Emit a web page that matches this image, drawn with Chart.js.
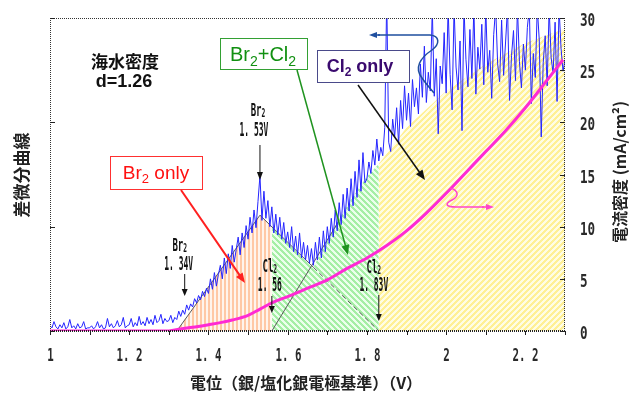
<!DOCTYPE html>
<html>
<head>
<meta charset="utf-8">
<script src="https://cdn.jsdelivr.net/npm/chart.js@4/dist/chart.umd.min.js"></script>
<style>
  html, body { margin: 0; padding: 0; background: #fff; }
  canvas { display: block; }
</style>
</head>
<body>
<canvas id="c" width="632" height="394"></canvas>
<script>
// Potential sweep: first sample and spacing (V vs Ag/AgCl)
const sweepStart = 1.00;
const sweepStep = 0.005;

// Differential curve, one value per sweep sample (plotted on the 0-30 scale)
const diffCurve = [
  0.5,0.3,0.9,0.4,0.2,0.6,0.3,0.8,0.2,0.4,1.1,0.3,0.5,0.2,0.7,0.3,0.4,0.9,0.2,0.3,
  0.3,0.5,0.2,0.4,0.9,0.3,0.6,0.2,0.3,1.2,0.4,0.7,0.3,0.5,1.0,0.4,0.6,1.3,0.3,0.5,
  0.6,1.2,0.4,0.8,0.5,1.4,0.6,0.9,0.5,1.3,0.7,1.1,0.6,1.5,0.8,1.0,1.6,0.7,1.2,0.9,
  1.0,1.5,0.8,1.3,1.1,1.9,1.4,2.0,1.6,2.5,2.0,2.6,2.3,3.1,2.7,3.4,3.0,3.8,3.3,4.1,
  3.6,5.0,4.0,5.6,4.3,5.4,6.3,5.0,7.0,5.5,7.4,6.0,8.2,6.6,7.8,9.0,7.3,9.4,8.0,10.1,
  8.8,10.9,9.4,11.6,9.9,12.4,14.9,10.6,13.4,10.8,12.5,10.0,11.9,9.4,11.2,9.2,10.9,8.8,10.4,8.4,
  9.5,8.0,10.0,7.6,9.1,7.3,9.4,7.0,8.5,6.8,8.2,6.5,7.9,6.3,8.5,6.8,9.0,7.0,9.6,7.6,
  10.0,8.4,10.8,9.0,11.6,9.6,12.3,10.2,13.1,10.8,13.7,11.5,14.6,12.0,15.3,12.8,16.4,13.4,17.1,14.2,
  14.6,16.2,15.1,17.3,15.9,18.4,16.3,17.6,16.8,19.5,32.0,18.1,17.2,20.3,18.6,21.4,17.9,22.1,19.4,23.5,
  20.2,22.8,19.6,24.1,21.5,23.3,20.8,25.6,22.4,27.3,21.9,24.8,23.0,31.0,22.5,26.1,18.9,25.4,23.7,28.6,
  22.8,31.0,24.6,21.2,31.0,25.3,23.1,27.8,19.2,31.0,26.0,23.4,28.9,24.2,31.0,22.7,27.2,25.1,29.4,23.6,
  31.0,24.8,26.9,22.3,28.4,31.0,25.6,23.9,29.8,24.5,27.7,31.0,22.1,26.4,28.8,24.0,31.0,25.8,23.3,27.5,
  25.0,29.1,31.0,21.8,26.6,24.3,31.0,27.9,18.6,25.7,28.3,23.5,31.0,26.2,24.7,29.6,22.0,31.0,27.1,24.9,
  26.0
];

// Current density (mA/cm2)
const currentV       = [1.00,1.30,1.33,1.36,1.40,1.43,1.46,1.50,1.53,1.56,1.60,1.65,1.70,1.75,1.80,1.85,1.90,1.95,2.00,2.05,2.10,2.15,2.20,2.25,2.295];
const currentDensity = [0,   0,   0.2, 0.35,0.6, 0.8, 1.05,1.5, 2.1, 2.7, 3.3, 4.1, 4.9, 6.0, 7.0, 8.2, 9.6, 11.3,13.2,15.2,17.2,19.2,21.4,23.8,26.0];

// Shaded regions: Br2 only / Br2+Cl2 / Cl2 only
const brOnlyV  = [1.32, 1.53, 1.56];
const brOnlyY  = [0,    11.1, 10.0];
const mixedV   = [1.56, 1.60, 1.665, 1.70, 1.725, 1.76, 1.80, 1.83];
const mixedY   = [10.0, 8.5,  6.1,   8.8,  10.4,  12.6, 14.8, 16.0];
const clOnlyV  = [1.83, 1.90, 2.00, 2.10, 2.20, 2.30];
const clOnlyY  = [16.0, 19.5, 23.0, 25.6, 27.6, 29.0];

// Construction lines of the peak analysis
const brRiseV = [1.32, 1.53];   const brRiseY = [0, 11.1];
const brFallV = [1.53, 1.665];  const brFallY = [11.1, 6.1];
const brTailV = [1.665, 1.83];  const brTailY = [6.1, 0];
const clRiseV = [1.56, 1.73];   const clRiseY = [0, 10.6];

// Marked potentials
const brStartV = 1.34, brPeakV = 1.53, clStartV = 1.56, clOnlyStartV = 1.83;

// Axis ranges and ticks
const xMin = 1.0, xMax = 2.3, xStep = 0.1;
const yMin = 0, yMax = 30, yRightStep = 5, yLeftStep = 10;

const pts = (xs, ys) => xs.map((x, i) => ({ x, y: ys[i] }));
const sweep = diffCurve.map((y, i) => ({ x: +(sweepStart + i * sweepStep).toFixed(3), y }));

const canvas = document.getElementById('c');
const ctx0 = canvas.getContext('2d');

function hatch(kind, fg, bg, period, w) {
  const c = document.createElement('canvas');
  c.width = c.height = period;
  const g = c.getContext('2d');
  const img = g.createImageData(period, period);
  for (let j = 0; j < period; j++) {
    for (let i = 0; i < period; i++) {
      let k;
      if (kind === 'v') k = i;
      else if (kind === 'back') k = ((i - j) % period + period) % period;
      else k = (i + j) % period;
      const col = k < w ? fg : bg;
      const o = (j * period + i) * 4;
      img.data[o] = col[0]; img.data[o + 1] = col[1]; img.data[o + 2] = col[2]; img.data[o + 3] = 255;
    }
  }
  g.putImageData(img, 0, 0);
  return ctx0.createPattern(c, 'repeat');
}

const orangeHatch = hatch('v',    [255, 200, 165], [255, 244, 236], 4, 2);
const greenHatch  = hatch('back', [165, 238, 165], [236, 255, 236], 6, 3);
const yellowHatch = hatch('fwd',  [255, 240, 150], [255, 253, 228], 6, 3);

const CJK = "'Noto Sans CJK JP'";
const SANS = "'Liberation Sans'";
const MONO = "'DejaVu Sans Mono'";

// condensed text (narrow bitmap-style labels)
function condText(ctx, text, x, y, size, sx, weight, align) {
  ctx.save();
  ctx.font = `${weight} ${size}px ${MONO}`;
  ctx.textBaseline = 'middle';
  const w = ctx.measureText(text).width * sx;
  let left = x;
  if (align === 'center') left = x - w / 2;
  else if (align === 'right') left = x - w;
  ctx.translate(left, y);
  ctx.scale(sx, 1);
  ctx.textAlign = 'left';
  ctx.fillText(text, 0, 0);
  ctx.restore();
}

// element symbol + subscript 2 in condensed style
function condChem(ctx, sym, x, y, size, sx) {
  ctx.save();
  ctx.font = `bold ${size}px ${MONO}`;
  const w1 = ctx.measureText(sym).width * sx;
  ctx.font = `bold ${size * 0.7}px ${MONO}`;
  const w2 = ctx.measureText('2').width * sx;
  const left = x - (w1 + w2) / 2;
  ctx.textBaseline = 'middle';
  ctx.textAlign = 'left';
  ctx.save();
  ctx.translate(left, y); ctx.scale(sx, 1);
  ctx.font = `bold ${size}px ${MONO}`;
  ctx.fillText(sym, 0, 0);
  ctx.restore();
  ctx.save();
  ctx.translate(left + w1, y + size * 0.15); ctx.scale(sx, 1);
  ctx.font = `bold ${size * 0.7}px ${MONO}`;
  ctx.fillText('2', 0, 0);
  ctx.restore();
  ctx.restore();
}

// text with subscripts: parts = [[text, isSub], ...]
function richText(ctx, parts, cx, cy, size, weight, color) {
  ctx.save();
  ctx.fillStyle = color;
  ctx.textBaseline = 'alphabetic';
  ctx.textAlign = 'left';
  const fontN = `${weight} ${size}px ${SANS}`;
  const fontS = `${weight} ${Math.round(size * 0.68)}px ${SANS}`;
  let total = 0;
  parts.forEach(([t, s]) => { ctx.font = s ? fontS : fontN; total += ctx.measureText(t).width; });
  let x = cx - total / 2;
  const base = cy + size * 0.36;
  parts.forEach(([t, s]) => {
    ctx.font = s ? fontS : fontN;
    ctx.fillText(t, x, s ? base + size * 0.22 : base);
    x += ctx.measureText(t).width;
  });
  ctx.restore();
}

function arrow(ctx, x1, y1, x2, y2, color, width, head, headW) {
  const ang = Math.atan2(y2 - y1, x2 - x1);
  ctx.save();
  ctx.strokeStyle = color; ctx.fillStyle = color; ctx.lineWidth = width;
  ctx.beginPath();
  ctx.moveTo(x1, y1);
  ctx.lineTo(x2 - Math.cos(ang) * head * 0.8, y2 - Math.sin(ang) * head * 0.8);
  ctx.stroke();
  ctx.beginPath();
  ctx.moveTo(x2, y2);
  ctx.lineTo(x2 - head * Math.cos(ang) + headW * Math.sin(ang), y2 - head * Math.sin(ang) - headW * Math.cos(ang));
  ctx.lineTo(x2 - head * Math.cos(ang) - headW * Math.sin(ang), y2 - head * Math.sin(ang) + headW * Math.cos(ang));
  ctx.closePath();
  ctx.fill();
  ctx.restore();
}

function labelBox(ctx, x, y, w, h, border) {
  ctx.save();
  ctx.fillStyle = '#ffffff';
  ctx.fillRect(x, y, w, h);
  ctx.strokeStyle = border; ctx.lineWidth = 1;
  ctx.strokeRect(x + 0.5, y + 0.5, w - 1, h - 1);
  ctx.restore();
}

const decorations = {
  id: 'decorations',
  afterDraw(chart) {
    const ctx = chart.ctx;
    const a = chart.chartArea;
    const xs = chart.scales.x, yl = chart.scales.y, yr = chart.scales.y2;

    // dotted frame
    ctx.save();
    ctx.strokeStyle = '#333';
    ctx.setLineDash([1, 1]);
    ctx.lineWidth = 1;
    ctx.beginPath();
    ctx.moveTo(a.left + 0.5, a.bottom); ctx.lineTo(a.left + 0.5, a.top + 0.5);
    ctx.lineTo(a.right - 0.5, a.top + 0.5); ctx.lineTo(a.right - 0.5, a.bottom);
    ctx.stroke();
    ctx.lineWidth = 2;
    ctx.strokeStyle = '#222';
    ctx.beginPath();
    ctx.moveTo(a.left, a.bottom); ctx.lineTo(a.right, a.bottom);
    ctx.stroke();
    ctx.restore();

    // tick marks and labels
    ctx.save();
    ctx.strokeStyle = '#222'; ctx.fillStyle = '#2a2a2a'; ctx.lineWidth = 1;
    xs.ticks.forEach(t => {
      const px = Math.round(xs.getPixelForValue(t.value)) + 0.5;
      ctx.beginPath(); ctx.moveTo(px, a.bottom); ctx.lineTo(px, a.bottom + 4); ctx.stroke();
      const tenth = Math.round(t.value * 10);
      if (tenth % 2 === 0) {
        const txt = tenth % 10 === 0 ? String(tenth / 10) : (Math.floor(tenth / 10) + '. ' + (tenth % 10));
        condText(ctx, txt, px, 356, 18, 0.6, 'bold', 'center');
      }
    });
    yr.ticks.forEach(t => {
      const py = Math.round(yr.getPixelForValue(t.value)) + 0.5;
      ctx.beginPath(); ctx.moveTo(a.right - 5, py); ctx.lineTo(a.right, py); ctx.stroke();
      condText(ctx, String(t.value), 580, py + 3, 18, 0.7, 'bold', 'left');
    });
    yl.ticks.forEach(t => {
      const py = Math.round(yl.getPixelForValue(t.value)) + 0.5;
      ctx.beginPath(); ctx.moveTo(a.left, py); ctx.lineTo(a.left + 5, py); ctx.stroke();
    });
    ctx.restore();

    // axis titles
    ctx.save();
    ctx.fillStyle = '#222';
    ctx.textAlign = 'center'; ctx.textBaseline = 'middle';
    ctx.font = `bold 16px ${CJK}`;
    ctx.fillText('電位（銀/塩化銀電極基準）（V）', 306, 383);
    ctx.save();
    ctx.translate(22, 175); ctx.rotate(-Math.PI / 2);
    ctx.font = `bold 17px ${CJK}`;
    ctx.fillText('差微分曲線', 0, 0);
    ctx.restore();
    ctx.save();
    ctx.translate(620, 172); ctx.rotate(-Math.PI / 2);
    ctx.font = `bold 16px ${CJK}`;
    ctx.fillText('電流密度 (mA/cm²)', 0, 0);
    ctx.restore();
    ctx.restore();

    // sample note
    ctx.save();
    ctx.fillStyle = '#111';
    ctx.textAlign = 'center'; ctx.textBaseline = 'middle';
    ctx.font = `bold 17px ${CJK}`;
    ctx.fillText('海水密度', 125, 62);
    ctx.font = `bold 18px ${SANS}`;
    ctx.fillText('d=1.26', 124, 82);
    ctx.restore();

    // marked potentials with down arrows
    ctx.save();
    ctx.fillStyle = '#111';
    const p134 = xs.getPixelForValue(brStartV);
    condChem(ctx, 'Br', p134 - 5, 246, 18, 0.5);
    condText(ctx, '1. 34V', p134 - 6, 265, 19, 0.42, 'bold', 'center');
    arrow(ctx, p134, 274, p134, 296, '#111', 1, 7, 3);

    const p153 = xs.getPixelForValue(brPeakV);
    condChem(ctx, 'Br', p153 - 2, 111, 18, 0.5);
    condText(ctx, '1. 53V', p153 - 6, 131, 19, 0.42, 'bold', 'center');
    arrow(ctx, p153, 145, p153, 180, '#111', 1, 8, 3);

    const p156 = xs.getPixelForValue(clStartV);
    condChem(ctx, 'Cl', p156 - 2, 267, 18, 0.5);
    condText(ctx, '1. 56', p156 - 2, 286, 19, 0.42, 'bold', 'center');
    arrow(ctx, p156, 296, p156, 313, '#111', 1, 7, 3);

    const p183 = xs.getPixelForValue(clOnlyStartV);
    condChem(ctx, 'Cl', p183 - 5, 268, 18, 0.5);
    condText(ctx, '1. 83V', p183 - 5, 286, 19, 0.42, 'bold', 'center');
    arrow(ctx, p183, 295, p183, 321, '#111', 1, 7, 3);
    ctx.restore();

    // region callouts
    labelBox(ctx, 110, 156, 93, 34, '#ff3030');
    richText(ctx, [['Br', false], ['2', true], [' only', false]], 156, 172, 19, 'normal', '#ff1010');
    arrow(ctx, 181, 190, 245, 283, '#ff2020', 2, 10, 4);

    labelBox(ctx, 220, 38, 88, 32, '#33a033');
    richText(ctx, [['Br', false], ['2', true], ['+Cl', false], ['2', true]], 263, 54, 20, 'normal', '#119011');
    arrow(ctx, 297, 70, 348, 255, '#1f931f', 1.5, 10, 4);

    labelBox(ctx, 317, 50, 93, 33, '#4a4a8a');
    richText(ctx, [['Cl', false], ['2', true], [' only', false]], 360, 66, 18, 'bold', '#3a0a6e');
    arrow(ctx, 358, 85, 425, 180, '#111', 1.5, 10, 4);

    // axis pointers
    ctx.save();
    ctx.strokeStyle = '#1f4f9f'; ctx.lineWidth = 1.5;
    ctx.beginPath();
    ctx.moveTo(434, 93);
    ctx.bezierCurveTo(430, 88, 426, 84, 422, 78);
    ctx.bezierCurveTo(414, 68, 420, 58, 432, 50);
    ctx.bezierCurveTo(440, 44, 440, 36, 430, 35);
    ctx.lineTo(378, 35);
    ctx.stroke();
    ctx.restore();
    arrow(ctx, 380, 35, 369, 35, '#1f4f9f', 1.5, 8, 3);

    ctx.save();
    ctx.strokeStyle = '#ff44cc'; ctx.lineWidth = 1.5;
    ctx.beginPath();
    ctx.moveTo(450, 188);
    ctx.bezierCurveTo(458, 190, 460, 196, 452, 200);
    ctx.bezierCurveTo(444, 204, 446, 207, 456, 207);
    ctx.lineTo(484, 207);
    ctx.stroke();
    ctx.restore();
    arrow(ctx, 482, 207, 494, 207, '#ff44cc', 1.5, 8, 3);
  }
};

const fillSet = (xs, ys, pattern) => ({
  data: pts(xs, ys), backgroundColor: pattern, borderWidth: 0, borderColor: 'rgba(0,0,0,0)',
  fill: 'origin', pointRadius: 0, tension: 0, order: 10
});
const guideSet = (xs, ys, dash) => ({
  data: pts(xs, ys), borderColor: '#5a5a5a', borderWidth: 1, borderDash: dash || [],
  fill: false, pointRadius: 0, tension: 0, order: 6
});

new Chart(canvas, {
  type: 'line',
  data: {
    datasets: [
      fillSet(brOnlyV, brOnlyY, orangeHatch),
      fillSet(mixedV, mixedY, greenHatch),
      fillSet(clOnlyV, clOnlyY, yellowHatch),
      guideSet(brRiseV, brRiseY),
      guideSet(brFallV, brFallY),
      guideSet(brTailV, brTailY, [5, 3]),
      guideSet(clRiseV, clRiseY),
      {
        data: sweep, borderColor: '#2424ff', borderWidth: 1, fill: false,
        pointRadius: 0, tension: 0, order: 2
      },
      {
        data: pts(currentV, currentDensity), borderColor: '#ff2ad4', borderWidth: 3, fill: false,
        pointRadius: 0, cubicInterpolationMode: 'monotone', order: 1
      }
    ]
  },
  options: {
    responsive: false,
    animation: false,
    devicePixelRatio: 1,
    layout: { padding: { top: 18, left: 0, right: 0, bottom: 0 } },
    plugins: { legend: { display: false }, tooltip: { enabled: false } },
    scales: {
      x: {
        type: 'linear', min: xMin, max: xMax,
        ticks: { display: false, stepSize: xStep },
        grid: { display: false }, border: { display: false },
        afterFit: s => { s.height = 63; }
      },
      y: {
        position: 'left', min: yMin, max: yMax,
        ticks: { display: false, stepSize: yLeftStep },
        grid: { display: false }, border: { display: false },
        afterFit: s => { s.width = 50; }
      },
      y2: {
        position: 'right', min: yMin, max: yMax,
        ticks: { display: false, stepSize: yRightStep },
        grid: { display: false }, border: { display: false },
        afterFit: s => { s.width = 67; }
      }
    }
  },
  plugins: [decorations]
});
</script>
</body>
</html>
